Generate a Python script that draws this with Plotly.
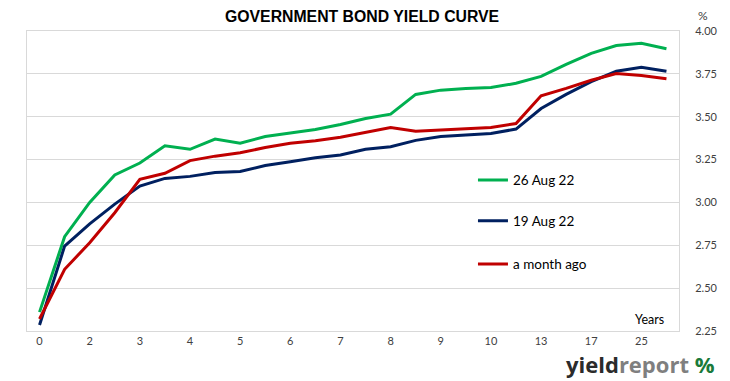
import plotly.graph_objects as go

categories = ["0", "1", "2", "2.5", "3", "3.5", "4", "4.5", "5", "5.5", "6", "6.5",
              "7", "7.5", "8", "8.5", "9", "9.5", "10", "11", "13", "15", "17", "21", "25", "30"]
tick_labels = ["0", "2", "3", "4", "5", "6", "7", "8", "9", "10", "13", "17", "25"]

aug26 = [2.36, 2.80, 3.00, 3.16, 3.23, 3.33, 3.31, 3.37, 3.345, 3.385, 3.405, 3.425,
         3.455, 3.49, 3.515, 3.63, 3.655, 3.665, 3.67, 3.695, 3.735, 3.805, 3.87, 3.915, 3.928, 3.897]
aug19 = [2.285, 2.745, 2.875, 2.99, 3.095, 3.14, 3.152, 3.175, 3.18, 3.215, 3.237, 3.26,
         3.277, 3.31, 3.325, 3.362, 3.385, 3.392, 3.402, 3.428, 3.548, 3.63, 3.705, 3.765, 3.789, 3.765]
month_ago = [2.32, 2.61, 2.765, 2.94, 3.135, 3.17, 3.244, 3.27, 3.29, 3.32, 3.345, 3.36,
             3.38, 3.407, 3.437, 3.415, 3.423, 3.432, 3.437, 3.46, 3.622, 3.665, 3.713, 3.752, 3.741, 3.721]

series = [("26 Aug 22", aug26, "#00b050", "legend"),
          ("19 Aug 22", aug19, "#002060", "legend2"),
          ("a month ago", month_ago, "#c00000", "legend3")]

fig = go.Figure()
for name, vals, col, leg in series:
    fig.add_trace(go.Scatter(x=categories, y=vals, mode="lines", name=name,
                             line=dict(color=col, width=3), legend=leg))

label_font = dict(family="Lato, Open Sans, sans-serif", size=11, color="#404040")
legend_common = dict(x=0.684, xanchor="left", yanchor="middle", bgcolor="rgba(0,0,0,0)",
                     font=dict(family="Lato, sans-serif", size=13.5, color="#000000"),
                     itemwidth=30, tracegroupgap=0)

fig.update_layout(
    width=730, height=381,
    margin=dict(l=27, r=45, t=31, b=50),
    paper_bgcolor="white", plot_bgcolor="white",
    showlegend=True,
    legend=dict(y=0.503, **legend_common),
    legend2=dict(y=0.367, **legend_common),
    legend3=dict(y=0.223, **legend_common),
    xaxis=dict(type="category", categoryorder="array", categoryarray=categories,
               range=[-0.5, len(categories) - 0.5],
               tickmode="array", tickvals=categories[0::2], ticktext=tick_labels,
               showgrid=False, showline=True, linecolor="#d9d9d9", linewidth=1, mirror=True,
               ticks="", tickfont=label_font, zeroline=False),
    yaxis=dict(side="right", range=[2.25, 4.0], dtick=0.25, tick0=2.25, tickformat=".2f",
               showgrid=True, gridcolor="#d9d9d9", gridwidth=1,
               showline=True, linecolor="#d9d9d9", linewidth=1, mirror=True,
               ticks="", tickfont=label_font, ticklabelstandoff=13, zeroline=False),
    annotations=[
        dict(text="<b>GOVERNMENT BOND YIELD CURVE</b>", xref="paper", yref="paper",
             x=0.5, y=1.0, yanchor="bottom", xshift=9, yshift=4, showarrow=False,
             font=dict(family="Liberation Sans, Arial, sans-serif", size=15.8, color="#000000")),
        dict(text="%", xref="paper", yref="paper", x=1.0, xanchor="left", xshift=17,
             y=1.0, yanchor="bottom", yshift=6, showarrow=False,
             font=dict(family="Lato, sans-serif", size=12, color="#404040")),
        dict(text="Years", xref="paper", yref="paper", x=0.98, y=0.04, xanchor="right", yanchor="middle",
             showarrow=False, font=dict(family="Lato, sans-serif", size=12.5, color="#000000")),
        dict(text="<b><span style='color:#2b2b2b'>yield</span><span style='color:#7f7f7f'>report</span> "
                  "<span style='color:#1a7a3a'>%</span></b>",
             xref="paper", yref="paper", x=1.0, y=0.0, xanchor="right", yanchor="middle", showarrow=False,
             xshift=37, yshift=-33, borderpad=0,
             font=dict(family="Open Sans, sans-serif", size=22)),
    ],
)

fig.write_html("out.html", config={"displayModeBar": False},
               post_script="document.body.style.margin='0';document.body.style.overflow='hidden';")
